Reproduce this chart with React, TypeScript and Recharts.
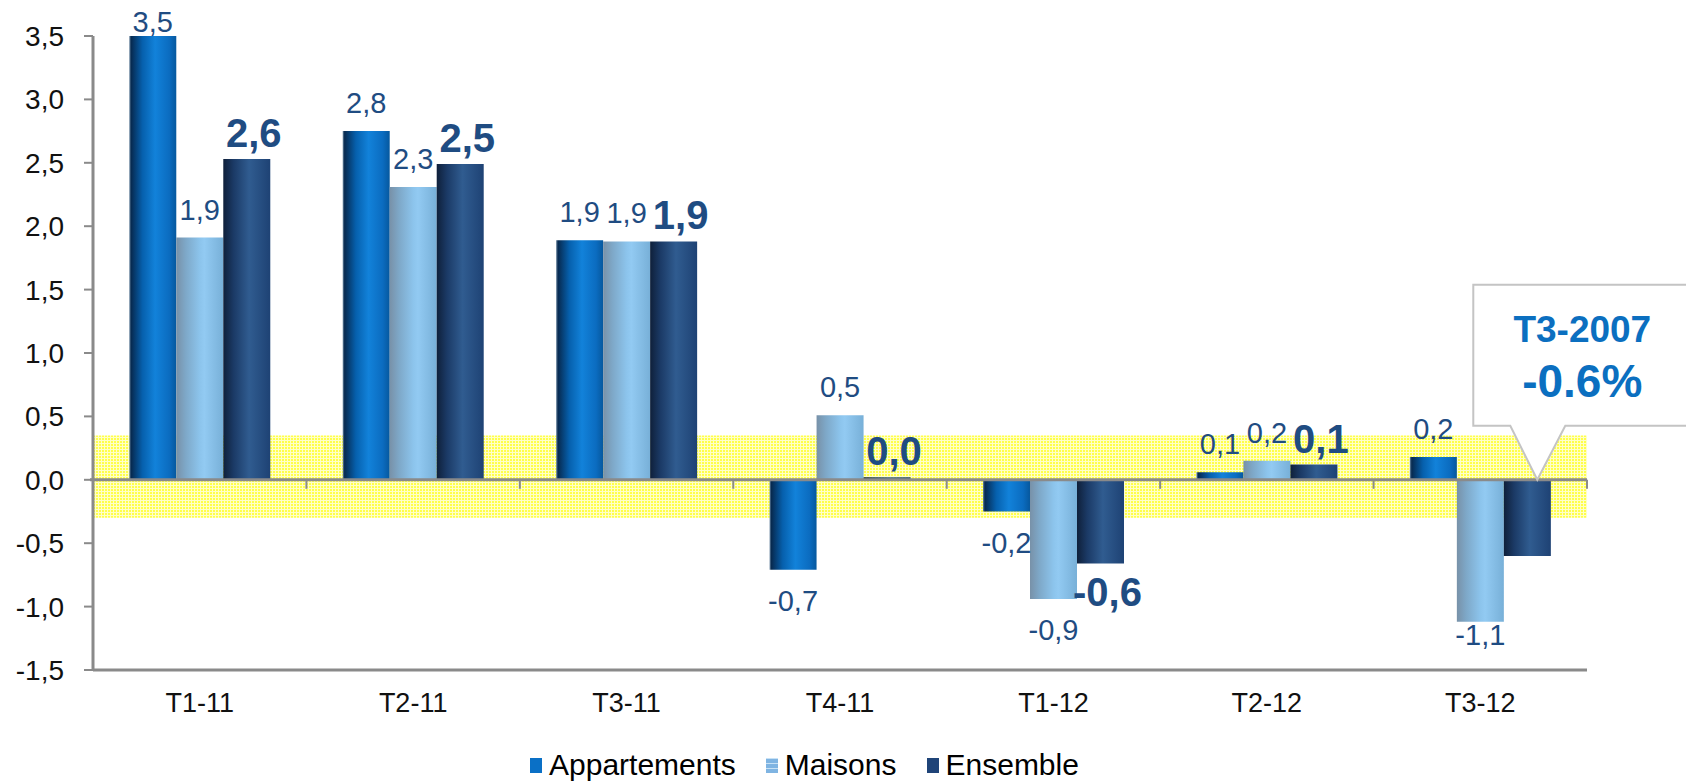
import {
  BarChart,
  Bar,
  XAxis,
  YAxis,
  LabelList,
  ReferenceArea,
  ReferenceLine,
  ReferenceDot,
} from "recharts";

const categories = ["T1-11", "T2-11", "T3-11", "T4-11", "T1-12", "T2-12", "T3-12"];
const appartements = [3.5, 2.75, 1.89, -0.71, -0.25, 0.06, 0.18];
const maisons = [1.91, 2.31, 1.88, 0.51, -0.94, 0.15, -1.12];
const ensemble = [2.53, 2.49, 1.88, 0.02, -0.66, 0.12, -0.6];
const appartementsLabels = ["3,5", "2,8", "1,9", "-0,7", "-0,2", "0,1", "0,2"];
const maisonsLabels = ["1,9", "2,3", "1,9", "0,5", "-0,9", "0,2", "-1,1"];
const ensembleLabels = ["2,6", "2,5", "1,9", "0,0", "-0,6", "0,1", ""];
const yTicks = [-1.5, -1, -0.5, 0, 0.5, 1, 1.5, 2, 2.5, 3, 3.5];
const band = [-0.3, 0.35];
const calloutCategory = "T3-12";
const calloutPeriod = "T3-2007";
const calloutValue = "-0.6%";

const data = categories.map((c, i) => ({
  cat: c,
  app: appartements[i],
  mai: maisons[i],
  ens: ensemble[i],
  appLabel: appartementsLabels[i],
  maiLabel: maisonsLabels[i],
  ensLabel: ensembleLabels[i],
}));

const W = 1686;
const H = 783;
const PLOT_TOP = 36;
const PLOT_BOTTOM = 670;
const FONT = "'Liberation Sans', Arial, sans-serif";
const NARROW = "'Liberation Sans Narrow', 'Arial Narrow', 'Liberation Sans', sans-serif";
const LABEL_COLOR = "#1f4c82";
const AXIS = "#8a8a8a";

// labels sit above positive bars, below negative ones; kept inside the plot
const makeLabel = (values: number[], bold: boolean) => (props: any) => {
  const vb = props.viewBox || props;
  const { x, y, width, height } = vb;
  const text = props.value;
  if (!text) return null;
  const top = Math.min(y, y + height);
  const bottom = Math.max(y, y + height);
  const v = values[props.index];
  const cx = x + width / 2 + (bold ? 7 : 0);
  let base;
  if (v >= 0) {
    base = bold ? top - 12 : top - 18;
    base = Math.max(base, PLOT_TOP - 4);
  } else {
    base = bold ? bottom + 43 : bottom + 41;
    base = Math.min(base, PLOT_BOTTOM - 25);
  }
  return (
    <text
      x={cx}
      y={base}
      textAnchor="middle"
      fill={LABEL_COLOR}
      fontFamily={FONT}
      fontSize={bold ? 40 : 29}
      fontWeight={bold ? 700 : 400}
    >
      {text}
    </text>
  );
};

const ZeroLine = (props: any) => {
  const { x1, y1, x2 } = props;
  const step = (x2 - x1) / categories.length;
  return (
    <g>
      <line x1={x1 - 3} y1={y1} x2={x2} y2={y1} stroke={AXIS} strokeWidth={3} />
      {categories.map((_, i) => (
        <line
          key={i}
          x1={x1 + step * (i + 1)}
          y1={y1}
          x2={x1 + step * (i + 1)}
          y2={y1 + 9}
          stroke={AXIS}
          strokeWidth={2}
        />
      ))}
    </g>
  );
};

const Callout = (props: any) => {
  const { cx, cy } = props;
  const left = cx - 7;
  const top = cy - 195;
  const bot = cy - 54;
  const right = W + 10;
  const tip = cx + 57;
  const path = `M${left},${top} L${right},${top} L${right},${bot} L${cx + 85},${bot} L${tip},${cy} L${cx + 30},${bot} L${left},${bot} Z`;
  return (
    <g>
      <path d={path} fill="#fff" stroke="#c4c4c4" strokeWidth={2} />
      <text x={cx + 102} y={cy - 138} textAnchor="middle" fill="#0b6fc0" fontFamily={FONT} fontWeight={700} fontSize={37}>
        {calloutPeriod}
      </text>
      <text x={cx + 102} y={cy - 83} textAnchor="middle" fill="#0b6fc0" fontFamily={FONT} fontWeight={700} fontSize={46}>
        {calloutValue}
      </text>
    </g>
  );
};

const legendItems = [
  { name: "Appartements", color: "#0a70c6", grid: false },
  { name: "Maisons", color: "#7fb4e2", grid: true },
  { name: "Ensemble", color: "#1f4478", grid: false },
];

const App = () => {
  return (
    <div style={{ position: "absolute", left: 0, top: 0, width: W, height: H, background: "#fff" }}>
      <BarChart
        width={W}
        height={H}
        data={data}
        margin={{ top: PLOT_TOP, right: 99, bottom: 53, left: 0 }}
        barCategoryGap="17%"
        barGap={0}
      >
        <defs>
          <linearGradient id="gApp" x1="0" y1="0" x2="1" y2="0">
            <stop offset="0%" stopColor="#6f8aa3" />
            <stop offset="4%" stopColor="#072a50" />
            <stop offset="28%" stopColor="#0660ad" />
            <stop offset="55%" stopColor="#1282da" />
            <stop offset="85%" stopColor="#0b6cc0" />
            <stop offset="100%" stopColor="#06589e" />
          </linearGradient>
          <linearGradient id="gMai" x1="0" y1="0" x2="1" y2="0">
            <stop offset="0%" stopColor="#7891a8" />
            <stop offset="20%" stopColor="#7ea8c8" />
            <stop offset="50%" stopColor="#8cc4ec" />
            <stop offset="60%" stopColor="#92caf2" />
            <stop offset="100%" stopColor="#78b0d8" />
          </linearGradient>
          <linearGradient id="gEns" x1="0" y1="0" x2="1" y2="0">
            <stop offset="0%" stopColor="#0f203a" />
            <stop offset="22%" stopColor="#1b3a66" />
            <stop offset="55%" stopColor="#305c90" />
            <stop offset="100%" stopColor="#1e4274" />
          </linearGradient>
          <pattern id="pBand" width="3" height="3" patternUnits="userSpaceOnUse">
            <rect width="3" height="3" fill="#ffff4a" />
            <rect x="2" width="1" height="3" fill="#ffffc8" />
            <rect y="2" width="3" height="1" fill="#ffffc8" />
          </pattern>
        </defs>
        <ReferenceArea y1={band[0]} y2={band[1]} fill="url(#pBand)" fillOpacity={1} stroke="none" />
        <XAxis
          dataKey="cat"
          height={60}
          axisLine={{ stroke: AXIS, strokeWidth: 3 }}
          tickLine={false}
          tickSize={0}
          tickMargin={23}
          tick={{ fill: "#111", fontSize: 27, fontFamily: NARROW }}
        />
        <YAxis
          width={93}
          domain={[-1.5, 3.5]}
          ticks={yTicks}
          interval={0}
          allowDataOverflow
          axisLine={{ stroke: AXIS, strokeWidth: 3 }}
          tickLine={{ stroke: AXIS, strokeWidth: 2 }}
          tickSize={9}
          tickMargin={20}
          tickFormatter={(v: number) => v.toFixed(1).replace(".", ",")}
          tick={{ fill: "#111", fontSize: 28, fontFamily: FONT }}
        />
        <Bar dataKey="app" fill="url(#gApp)" isAnimationActive={false}>
          <LabelList dataKey="appLabel" content={makeLabel(appartements, false)} />
        </Bar>
        <Bar dataKey="mai" fill="url(#gMai)" isAnimationActive={false}>
          <LabelList dataKey="maiLabel" content={makeLabel(maisons, false)} />
        </Bar>
        <Bar dataKey="ens" fill="url(#gEns)" isAnimationActive={false}>
          <LabelList dataKey="ensLabel" content={makeLabel(ensemble, true)} />
        </Bar>
        <ReferenceLine y={0} shape={ZeroLine} />
        <ReferenceDot x={calloutCategory} y={0} r={0} shape={Callout} />
      </BarChart>
      <div
        style={{
          position: "absolute",
          left: 530,
          top: 748,
          display: "flex",
          alignItems: "center",
          fontFamily: NARROW,
          fontSize: 30,
          color: "#000",
          whiteSpace: "nowrap",
        }}
      >
        {legendItems.map((it) => (
          <div key={it.name} style={{ display: "flex", alignItems: "center", marginRight: 30 }}>
            <span
              style={{
                display: "inline-block",
                width: 12,
                height: 15,
                marginRight: 7,
                background: it.grid
                  ? `repeating-linear-gradient(0deg, ${it.color} 0 4px, #c8e2f6 4px 5px), ${it.color}`
                  : it.color,
              }}
            />
            <span>{it.name}</span>
          </div>
        ))}
      </div>
    </div>
  );
};

export default App;
